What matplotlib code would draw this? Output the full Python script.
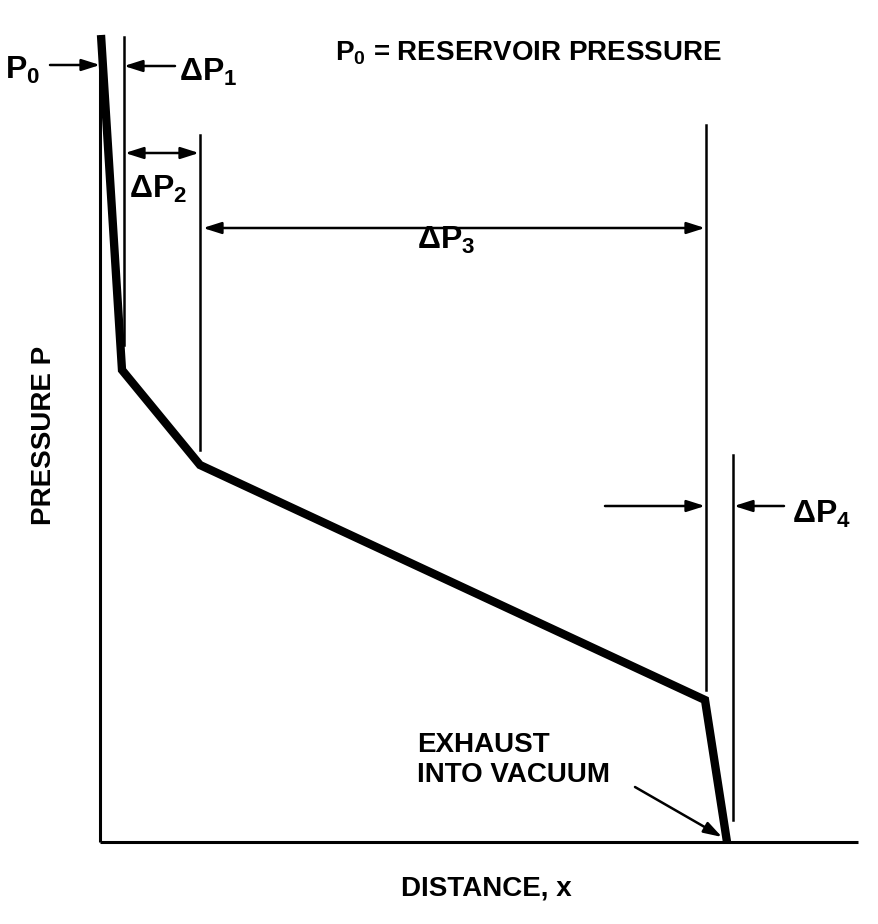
import matplotlib
matplotlib.use("Agg")
import matplotlib.pyplot as plt

plt.rcParams["mathtext.fontset"] = "custom"
plt.rcParams["mathtext.rm"] = "Liberation Sans:bold"
plt.rcParams["mathtext.it"] = "Liberation Sans:bold"
plt.rcParams["mathtext.bf"] = "Liberation Sans:bold"
plt.rcParams["mathtext.default"] = "rm"

# pressure profile along the flow path (distance from origin, pressure above vacuum)
DIST = [1, 22, 100, 605, 627]
PRESS = [807, 472, 377, 142, 0]

# boundaries of the pressure-drop regions: x, bottom, top
BOUNDS = [(24, 497, 805), (100, 392, 707), (606, 152, 717), (633, 22, 387)]

X_END = 758
Y_TOP = 807

FONT = ["Liberation Sans", "DejaVu Sans"]
TXT = dict(family=FONT, fontweight="bold", color="black")

fig = plt.figure(figsize=(8.79, 9.24), dpi=100)
ax = fig.add_axes([0, 0, 1, 1])
ax.set_xlim(-100, 779)
ax.set_ylim(-82, 842)
ax.axis("off")

# axes
ax.plot([0, X_END], [0, 0], color="black", lw=2.2, solid_capstyle="butt")
ax.plot([0, 0], [0, Y_TOP], color="black", lw=2.2, solid_capstyle="butt")

# profile
ax.plot(DIST, PRESS, color="black", lw=6, solid_joinstyle="miter", solid_capstyle="butt")

for x, y0, y1 in BOUNDS:
    ax.plot([x, x], [y0, y1], color="black", lw=1.8)

ap = dict(arrowstyle="-|>,head_length=1.1,head_width=0.35", color="black", lw=1.8,
          shrinkA=0, shrinkB=0)
dap = dict(arrowstyle="<|-|>,head_length=1.1,head_width=0.35", color="black", lw=1.8,
           shrinkA=0, shrinkB=0)

# P0 and dP1
ax.annotate("", xy=(0, 777), xytext=(-50, 777), arrowprops=ap)
ax.annotate("", xy=(24, 776), xytext=(75, 776), arrowprops=ap)
# dP2
ax.annotate("", xy=(99, 689), xytext=(25, 689), arrowprops=dap)
# dP3
ax.annotate("", xy=(605, 614), xytext=(103, 614), arrowprops=dap)
# dP4
ax.annotate("", xy=(605, 336), xytext=(505, 336), arrowprops=ap)
ax.annotate("", xy=(634, 336), xytext=(684, 336), arrowprops=ap)
# exhaust
ax.annotate("", xy=(622, 5), xytext=(535, 55), arrowprops=ap)

fs = 23
ax.text(-95, 772, "P$_0$", fontsize=fs, ha="left", va="center", **TXT)
ax.text(79, 770, "ΔP$_1$", fontsize=fs, ha="left", va="center", **TXT)
ax.text(235, 789, "P$_0$ = RESERVOIR PRESSURE", fontsize=20, ha="left", va="center", **TXT)
ax.text(29, 653, "ΔP$_2$", fontsize=fs, ha="left", va="center", **TXT)
ax.text(317, 602, "ΔP$_3$", fontsize=fs, ha="left", va="center", **TXT)
ax.text(692, 328, "ΔP$_4$", fontsize=fs, ha="left", va="center", **TXT)
ax.text(317, 82, "EXHAUST\nINTO VACUUM", fontsize=20, ha="left", va="center",
        linespacing=1.15, **TXT)
ax.text(-56, 407, "PRESSURE P", fontsize=20, ha="center", va="center", rotation=90, **TXT)
ax.text(386, -46, "DISTANCE, x", fontsize=20, ha="center", va="center", **TXT)

fig.savefig("out.png", dpi=100)
